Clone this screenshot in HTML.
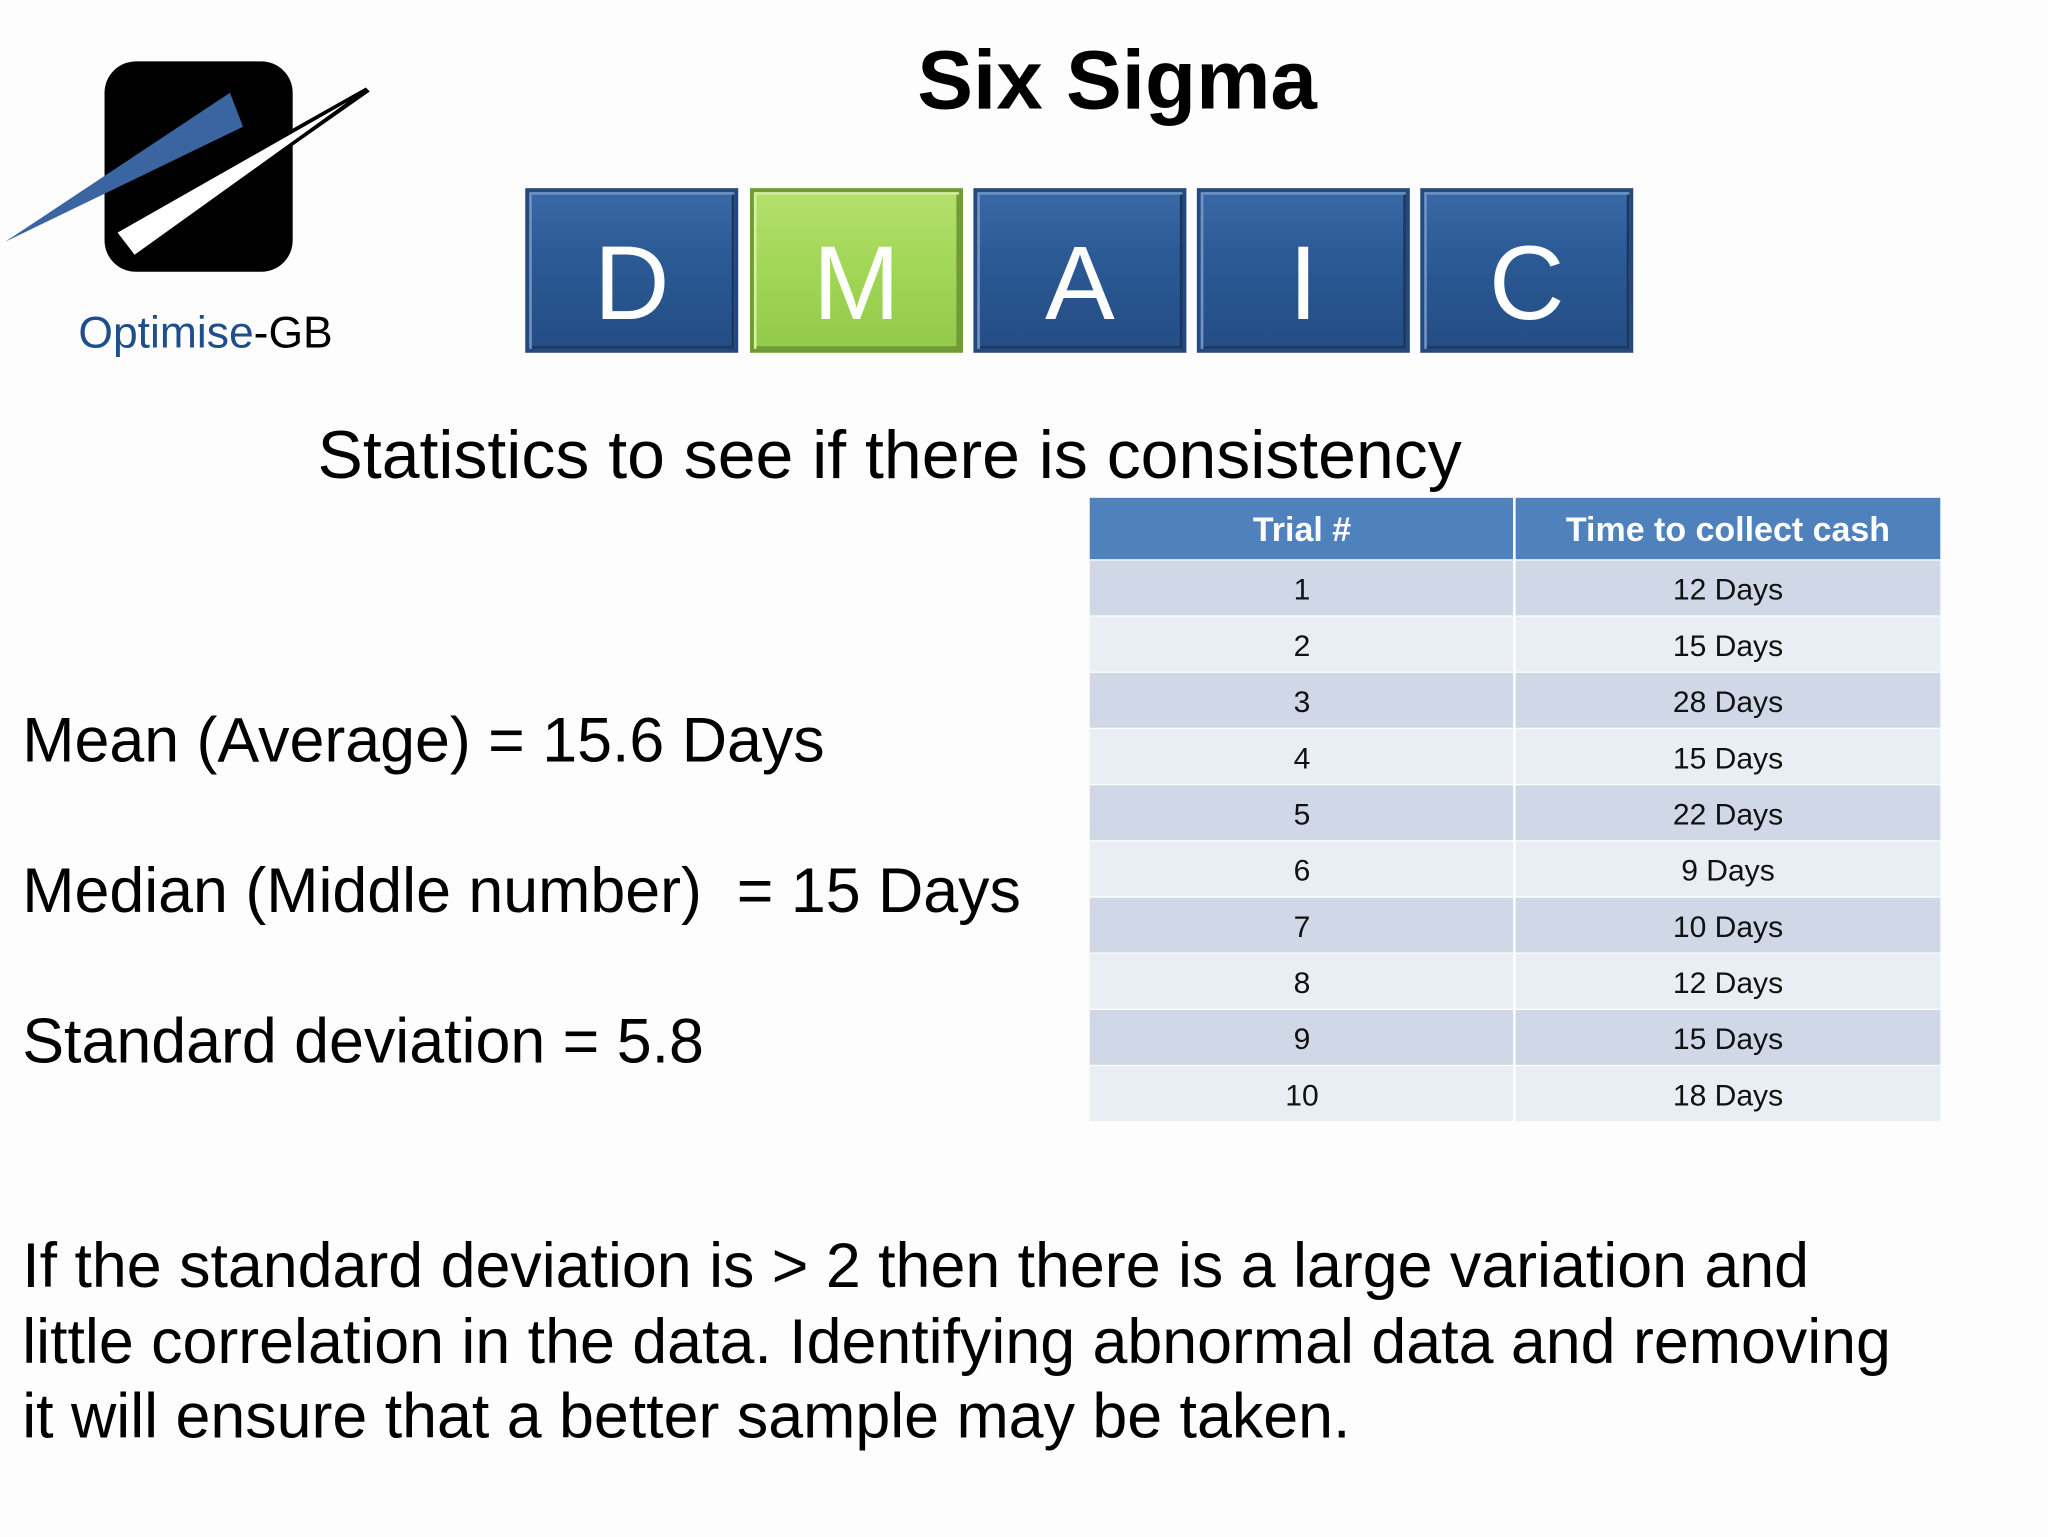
<!DOCTYPE html>
<html><head><meta charset="utf-8"><style>
html,body{margin:0;padding:0;background:#fdfdfd;}
#wrap{position:absolute;left:0;top:0;width:1568px;height:1176px;transform:scale(1.3066);transform-origin:0 0;font-family:"Liberation Sans",sans-serif;color:#000;overflow:hidden;}
.abs{position:absolute;white-space:nowrap;}
.box{position:absolute;top:144px;width:163px;height:126px;box-sizing:border-box;border:3px solid #25497a;background:linear-gradient(#3a6aa6,#2b5a95 40%,#244d84);color:#fff;font-size:80px;text-align:center;line-height:140px;box-shadow:inset 2px 2px 0 #6e94c6,inset -2px -2px 0 #1a375f;}
.box.g{background:linear-gradient(#b4e06c,#a1d656 50%,#93c94a);border-color:#6f9a35;box-shadow:inset 2px 2px 0 #d4f0a0,inset -2px -2px 0 #6f9a35;}
.cell{position:absolute;text-align:center;font-size:23px;line-height:43px;color:#111;}
</style></head><body>
<div id="wrap">
<svg class="abs" style="left:0;top:40px" width="300" height="200">
<rect x="80" y="7" width="144" height="161" rx="24" fill="#000"/>
<polygon points="4,145 176,31 186,57" fill="#3a65a0"/>
<polygon points="86,136 280,27 283,30 108,153" fill="#000"/>
<polygon points="90,138 266,38 103,155" fill="#fff"/>
</svg>
<div class="abs" style="left:60px;top:236px;font-size:34px;"><span style="color:#1f4e8c">Optimise</span>-GB</div>
<div class="abs" style="left:702px;top:24px;font-size:64px;font-weight:bold;">Six Sigma</div>
<div class="box" style="left:402px">D</div>
<div class="box g" style="left:574px">M</div>
<div class="box" style="left:745px">A</div>
<div class="box" style="left:916px">I</div>
<div class="box" style="left:1087px">C</div>
<div class="abs" style="left:243px;top:319px;font-size:52px;">Statistics to see if there is consistency</div>
<div class="abs" style="left:17px;top:540px;font-size:48px;">Mean (Average) = 15.6 Days</div>
<div class="abs" style="left:17px;top:655px;font-size:48px;">Median (Middle number)&nbsp; = 15 Days</div>
<div class="abs" style="left:17px;top:770px;font-size:48px;">Standard deviation = 5.8</div>
<div class="abs" style="left:17px;top:941px;font-size:48px;line-height:57.5px;white-space:normal;width:1540px;">If the standard deviation is &gt; 2 then there is a large variation and<br>little correlation in the data. Identifying abnormal data and removing<br>it will ensure that a better sample may be taken.</div>
<div id="tbl" class="abs" style="left:834px;top:381px;width:651px;height:477px;">
<div class="abs" style="left:0;top:0;width:651px;height:47px;background:#4f81bd;"></div>
<div class="cell" style="left:0;top:3px;width:325px;color:#fff;font-weight:bold;font-size:26px;">Trial #</div>
<div class="cell" style="left:326px;top:3px;width:325px;color:#fff;font-weight:bold;font-size:26px;">Time to collect cash</div>
</div>
</div>
<script>
const trials=[1,2,3,4,5,6,7,8,9,10];
const days=[12,15,28,15,22,9,10,12,15,18];
const tbl=document.getElementById('tbl');
trials.forEach((t,i)=>{
  const y=47+i*43;
  const r=document.createElement('div');
  r.className='abs';
  r.style.cssText=`left:0;top:${y+1}px;width:651px;height:42px;background:${i%2?'#e9edf4':'#d0d8e8'}`;
  
  
  tbl.appendChild(r);
  const c1=document.createElement('div');
  c1.className='cell';c1.style.cssText=`left:0;top:${y+2}px;width:325px;`;c1.textContent=t;
  
  
  tbl.appendChild(c1);
  const c2=document.createElement('div');
  c2.className='cell';c2.style.cssText=`left:326px;top:${y+2}px;width:325px;`;c2.textContent=days[i]+' Days';
  
  
  tbl.appendChild(c2);
});
const d=document.createElement('div');
d.className='abs';d.style.cssText='left:324px;top:0;width:2px;height:477px;background:#fff';


tbl.appendChild(d);
</script>
</body></html>
